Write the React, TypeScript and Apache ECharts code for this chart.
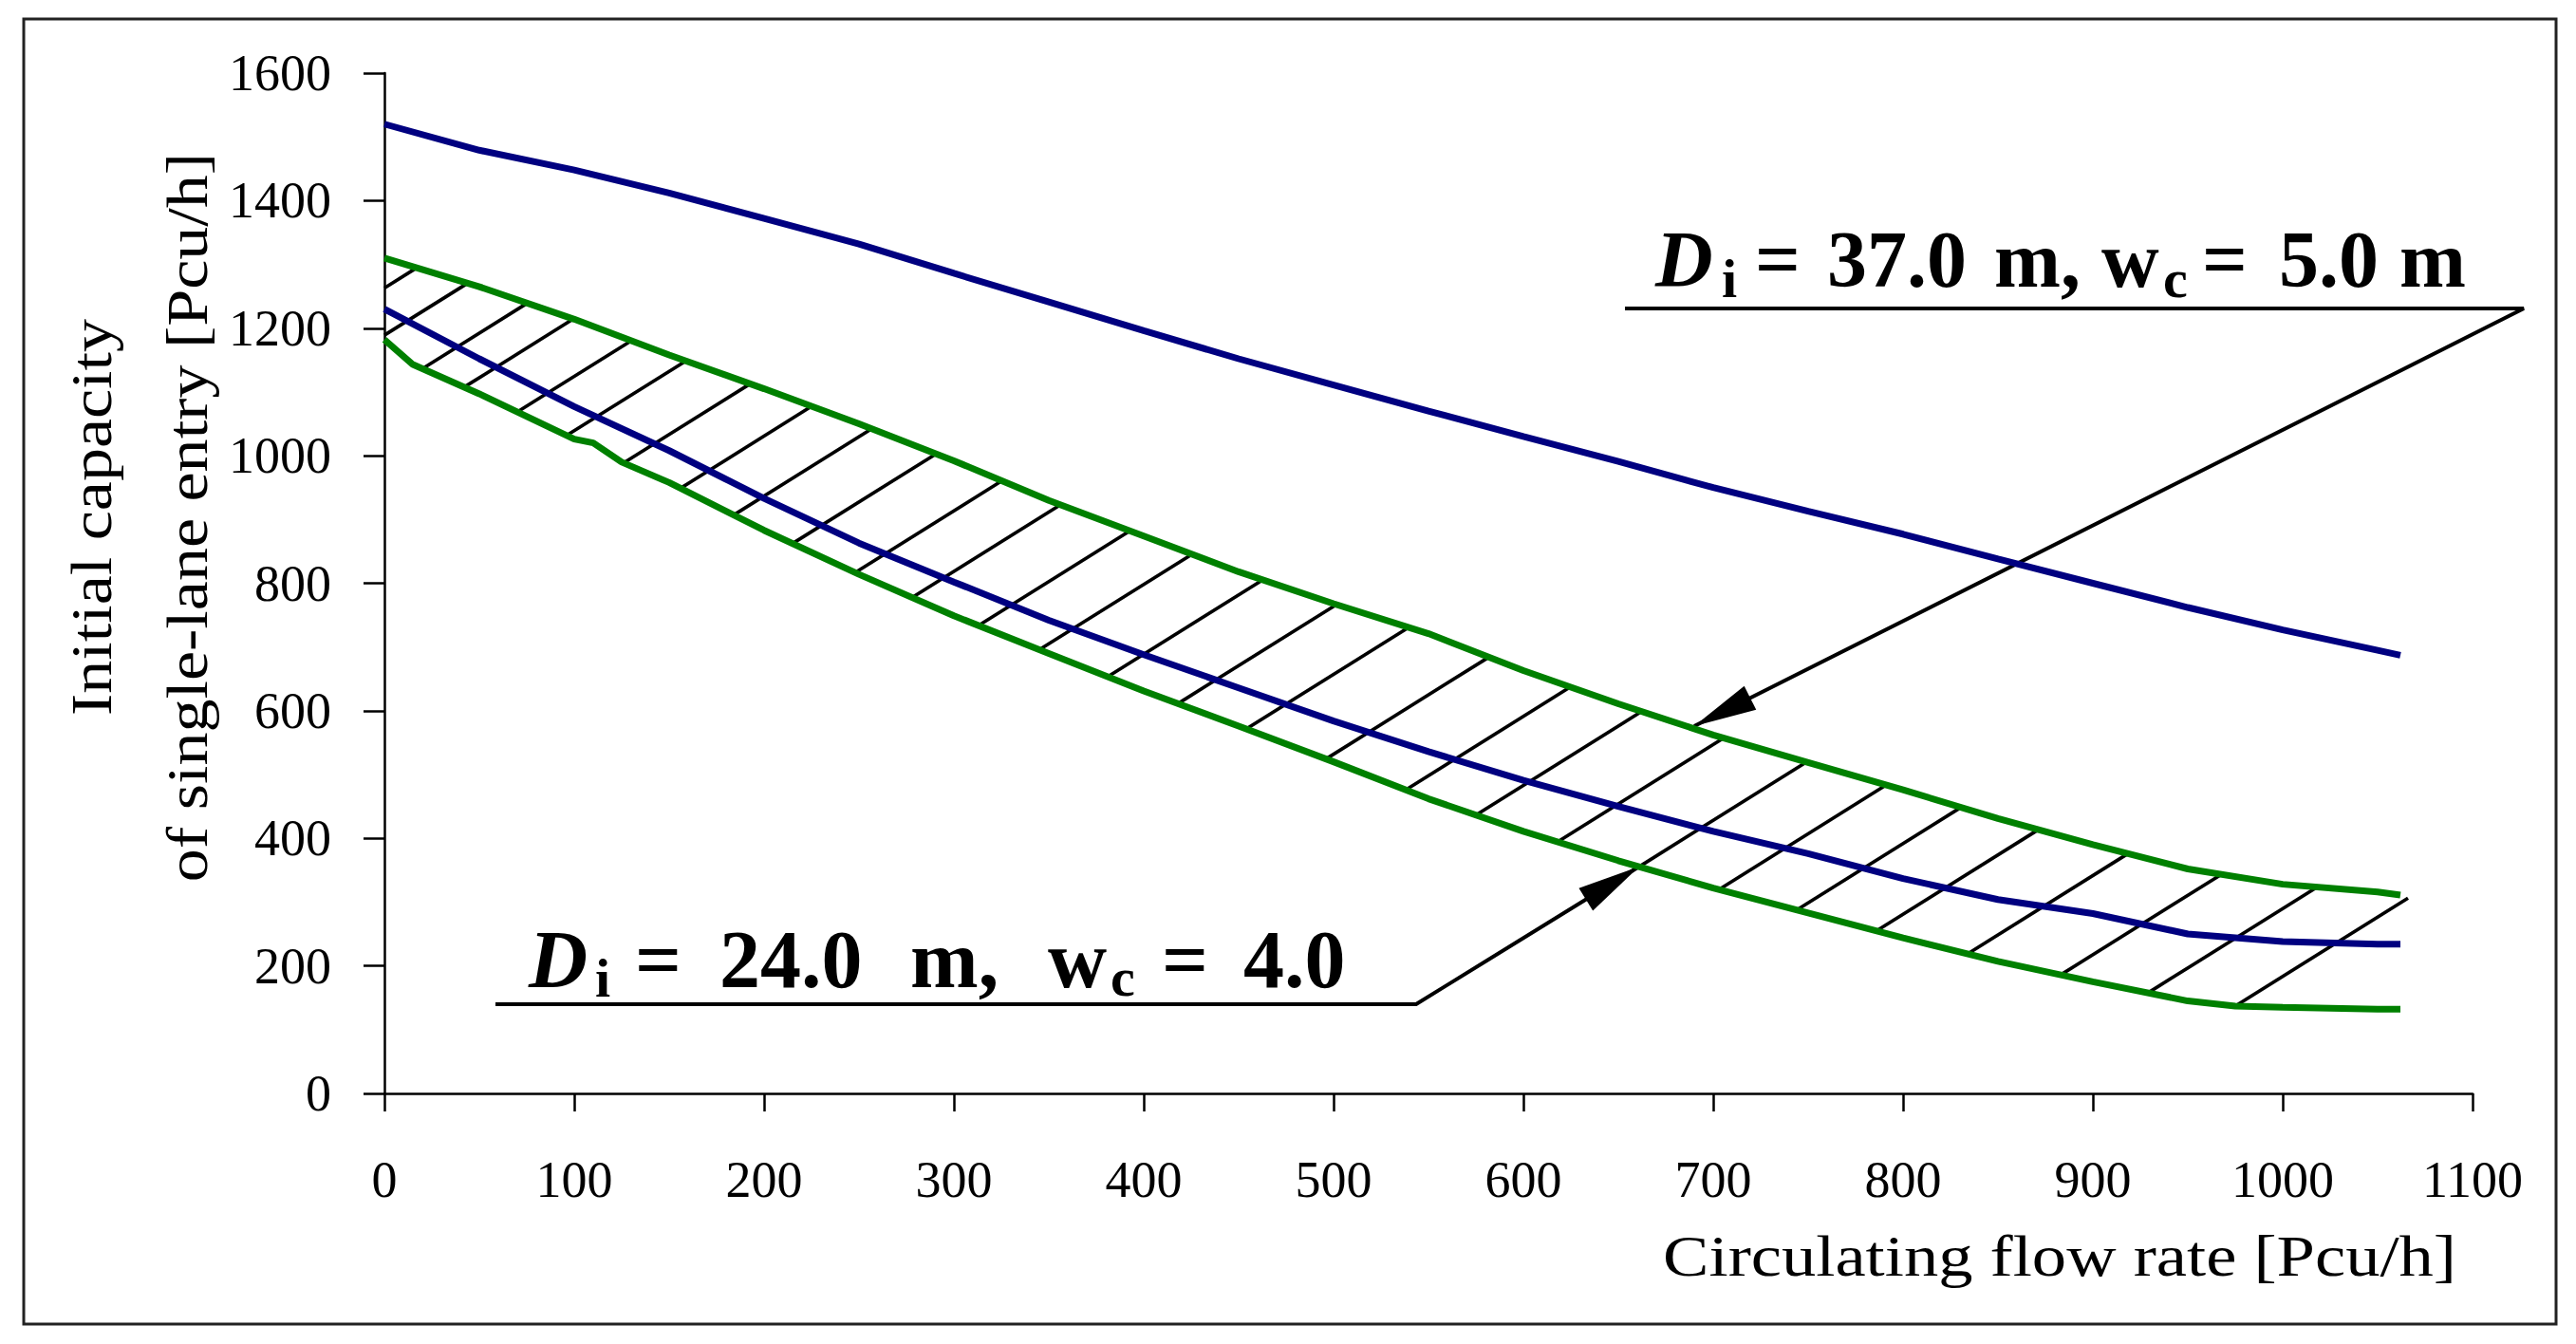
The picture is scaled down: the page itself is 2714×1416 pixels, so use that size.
import React, { useEffect, useRef } from "react";
import * as echarts from "echarts";

// ---- data ----
const flowX = [0, 50, 100, 150, 200, 250, 300, 350, 400, 450, 500, 550, 600, 650, 700, 750, 800, 850, 900, 950, 1000, 1050, 1062];
const blueUpper = [1520, 1479, 1448, 1412, 1372, 1332, 1286, 1241, 1196, 1152, 1111, 1070, 1030, 991, 950, 913, 877, 838, 800, 762, 727, 695, 687];
const blueLower = [1230, 1152, 1077, 1008, 933, 863, 802, 742, 688, 636, 584, 536, 491, 450, 411, 376, 337, 304, 282, 250, 238, 234, 234];
const greenUpper = [1310, 1265, 1214, 1158, 1105, 1050, 992, 930, 874, 818, 768, 721, 663, 611, 562, 519, 476, 431, 390, 352, 328, 316, 311];
const greenLowerX = [0, 15, 50, 100, 110, 125, 150, 200, 250, 300, 350, 400, 450, 500, 550, 600, 650, 700, 750, 800, 850, 900, 950, 975, 1000, 1050, 1062];
const greenLower = [1182, 1143, 1097, 1026, 1020, 990, 958, 883, 814, 749, 690, 631, 576, 520, 462, 411, 365, 322, 283, 244, 207, 175, 145, 137, 135, 132, 132];

// hatch lines: two start on the y axis (values at x = 0), the rest start on the lower green curve
const hatchAxisY = [1263, 1189];
const hatchLowerX = [20, 42, 70, 96, 126, 156, 184, 215, 248, 278, 313, 345, 381, 418, 454, 496, 538, 575, 618, 661, 703, 744, 786, 834, 883, 929, 975, 1022];
const hatchEndX = 1066;

const xTicks = { min: 0, max: 1100, interval: 100 };
const yTicks = { min: 0, max: 1600, interval: 200 };

const FONT = "'Liberation Serif', 'Times New Roman', serif";
const NAVY = "#000080";
const GREEN = "#008000";

function interp(xs: number[], ys: number[], x: number) {
  if (x <= xs[0]) return ys[0];
  for (let i = 1; i < xs.length; i++) {
    if (x <= xs[i]) {
      const t = (x - xs[i - 1]) / (xs[i] - xs[i - 1]);
      return ys[i - 1] + t * (ys[i] - ys[i - 1]);
    }
  }
  return ys[ys.length - 1];
}

const pairs = (xs: number[], ys: number[]) => xs.map((x, i) => [x, ys[i]]);

const hatchData = [
  ...hatchAxisY.map((y) => [0, y]),
  ...hatchLowerX.map((x) => [x, interp(greenLowerX, greenLower, x)]),
];

const HATCH_SLOPE = 0.625; // pixel rise per pixel run

function renderHatch(params: any, api: any) {
  const p = api.coord([api.value(0), api.value(1)]);
  const poly = flowX.map((fx, i) => api.coord([fx, greenUpper[i]]));
  const xClip = api.coord([hatchEndX, 0])[0];
  poly.push([xClip + 60, poly[poly.length - 1][1]]);
  const s = HATCH_SLOPE;
  let best = Infinity;
  for (let i = 1; i < poly.length; i++) {
    const ax = poly[i - 1][0], ay = poly[i - 1][1];
    const dx = poly[i][0] - ax, dy = poly[i][1] - ay;
    const den = dy + s * dx;
    if (Math.abs(den) < 1e-9) continue;
    const u = (p[1] - ay - s * (ax - p[0])) / den;
    if (u < -1e-6 || u > 1 + 1e-6) continue;
    const t = ax + u * dx - p[0];
    if (t >= 0 && t < best) best = t;
  }
  if (!isFinite(best)) best = 0;
  if (p[0] + best > xClip) best = xClip - p[0];
  return {
    type: "line",
    shape: { x1: p[0], y1: p[1], x2: p[0] + best, y2: p[1] - s * best },
    style: { stroke: "#000", lineWidth: 3.6 },
  };
}

function piece(text: string, x: number, baseline: number, size: number, italic = false) {
  return {
    type: "text",
    x,
    y: baseline - 0.3375 * size,
    style: {
      text,
      font: `${italic ? "italic " : ""}bold ${size}px ${FONT}`,
      fill: "#000",
      textAlign: "left",
      textVerticalAlign: "middle",
      align: "left",
      verticalAlign: "middle",
    },
  };
}

function arrowHead(tip: number[], from: number[], len: number, halfW: number) {
  const dx = tip[0] - from[0], dy = tip[1] - from[1];
  const d = Math.hypot(dx, dy);
  const ux = dx / d, uy = dy / d;
  const bx = tip[0] - ux * len, by = tip[1] - uy * len;
  return {
    type: "polygon",
    shape: { points: [tip, [bx - uy * halfW, by + ux * halfW], [bx + uy * halfW, by - ux * halfW]] },
    style: { fill: "#000" },
  };
}

function titleText(text: string, x: number, y: number, rotation: number, align: string, scaleX: number) {
  return {
    type: "text",
    x,
    y,
    rotation,
    scaleX,
    style: {
      text,
      font: `62px ${FONT}`,
      fill: "#000",
      textAlign: align,
      textVerticalAlign: "middle",
      align,
      verticalAlign: "middle",
    },
  };
}

const A1_CORNER = [2659, 325];
const A1_TIP = [1785, 765];
const A2_CORNER = [1492, 1058];
const A2_TIP = [1727, 913];

const lineSeries = (data: number[][], color: string) => ({
  type: "line",
  data,
  showSymbol: false,
  symbol: "none",
  z: 3,
  lineStyle: { color, width: 7 },
});

export default function App() {
  const ref = useRef<HTMLDivElement>(null);
  useEffect(() => {
    const chart = echarts.init(ref.current!, null, { renderer: "svg" });
    const axisLineStyle = { color: "#000", width: 2.5 };
    chart.setOption({
      animation: false,
      backgroundColor: "#fff",
      grid: { left: 405, top: 77, width: 2200, height: 1075 },
      xAxis: {
        type: "value",
        ...xTicks,
        axisLine: { show: true, lineStyle: axisLineStyle },
        axisTick: { show: true, inside: false, length: 19, lineStyle: axisLineStyle },
        axisLabel: {
          fontSize: 54,
          fontFamily: FONT,
          color: "#000",
          margin: 64,
          lineHeight: 54,
          formatter: (v: number) => String(v),
        },
        splitLine: { show: false },
      },
      yAxis: {
        type: "value",
        ...yTicks,
        axisLine: { show: true, lineStyle: axisLineStyle },
        axisTick: { show: true, inside: false, length: 22, lineStyle: axisLineStyle },
        axisLabel: {
          fontSize: 54,
          fontFamily: FONT,
          color: "#000",
          margin: 56,
          formatter: (v: number) => String(v),
        },
        splitLine: { show: false },
      },
      series: [
        {
          type: "custom",
          renderItem: renderHatch,
          data: hatchData,
          encode: { x: 0, y: 1 },
          clip: false,
          z: 2,
        },
        lineSeries(pairs(flowX, blueUpper), NAVY),
        lineSeries(pairs(flowX, blueLower), NAVY),
        lineSeries(pairs(flowX, greenUpper), GREEN),
        lineSeries(pairs(greenLowerX, greenLower), GREEN),
      ],
      graphic: [
        {
          type: "rect",
          shape: { x: 25, y: 20, width: 2668, height: 1375 },
          style: { fill: "none", stroke: "#222", lineWidth: 3 },
        },
        titleText("Initial capacity", 96, 545, Math.PI / 2, "center", 1.13),
        titleText("of single-lane entry [Pcu/h]", 197, 545, Math.PI / 2, "center", 1.13),
        titleText("Circulating flow rate [Pcu/h]", 2588, 1323, 0, "right", 1.17),
        // annotation 1
        piece("D", 1744, 302, 84, true),
        piece("i", 1814, 313, 58),
        piece("=", 1849, 302, 84),
        piece("37.0", 1925, 302, 84),
        piece("m,", 2101, 302, 84),
        piece("w", 2214, 302, 84),
        piece("c", 2279, 313, 58),
        piece("=", 2320, 302, 84),
        piece("5.0", 2401, 302, 84),
        piece("m", 2528, 302, 84),
        {
          type: "polyline",
          shape: { points: [[1712, 325], A1_CORNER, A1_TIP] },
          style: { stroke: "#000", lineWidth: 4, fill: "none" },
        },
        arrowHead(A1_TIP, A1_CORNER, 66, 14),
        // annotation 2
        piece("D", 557, 1040, 86, true),
        piece("i", 627, 1050, 58),
        piece("=", 669, 1040, 86),
        piece("24.0", 758, 1040, 86),
        piece("m,", 959, 1040, 86),
        piece("w", 1104, 1040, 86),
        piece("c", 1170, 1049, 58),
        piece("=", 1224, 1040, 86),
        piece("4.0", 1310, 1040, 86),
        {
          type: "polyline",
          shape: { points: [[522, 1058], A2_CORNER, A2_TIP] },
          style: { stroke: "#000", lineWidth: 4, fill: "none" },
        },
        arrowHead(A2_TIP, A2_CORNER, 66, 14),
      ],
    });
    return () => chart.dispose();
  }, []);
  return (
    <div
      ref={ref}
      style={{ position: "absolute", left: 0, top: 0, width: 2714, height: 1416, background: "#fff" }}
    />
  );
}
